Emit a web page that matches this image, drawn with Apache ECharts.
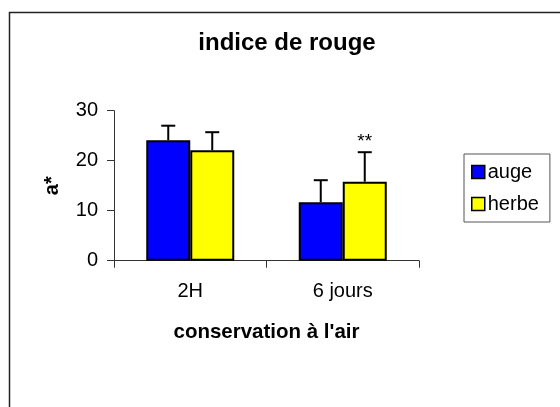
<!DOCTYPE html>
<html>
<head>
<meta charset="utf-8">
<script src="https://cdn.jsdelivr.net/npm/echarts@6/dist/echarts.min.js"></script>
<style>html,body{margin:0;padding:0;background:#fff}#c{width:560px;height:407px}</style>
</head>
<body>
<div id="c"></div>
<script>
const categories = ['2H', '6 jours'];
const seriesNames = ['auge', 'herbe'];
const augeValues = [24.1, 11.7];
const herbeValues = [22.1, 15.8];
const augeErrTop = [27.0, 16.1];
const herbeErrTop = [25.7, 21.7];
const augeSig = ['', ''];
const herbeSig = ['', '**'];
const yTicks = [0, 10, 20, 30];

const FONT = '"Liberation Sans", Arial, sans-serif';
const BAR_W = 44;

function errSeries(name, values, tops, sigs, idx) {
  return {
    type: 'custom',
    name: name + ' err',
    silent: true,
    z: 5,
    data: values.map((v, i) => [i, v, tops[i], sigs[i]]),
    encode: { x: 0, y: [1, 2] },
    renderItem: function (params, api) {
      const cat = api.value(0);
      const base = api.coord([cat, api.value(1)]);
      const top = api.coord([cat, api.value(2)]);
      const x = base[0] + (idx - 0.5) * BAR_W;
      const capHalf = 7;
      const children = [
        { type: 'line', shape: { x1: x, y1: base[1], x2: x, y2: top[1] }, style: { stroke: '#000', lineWidth: 2 } },
        { type: 'line', shape: { x1: x - capHalf, y1: top[1], x2: x + capHalf, y2: top[1] }, style: { stroke: '#000', lineWidth: 2 } }
      ];
      const s = api.value(3);
      if (s) {
        children.push({ type: 'text', style: { text: s, x: x, y: top[1] - 10, align: 'center', verticalAlign: 'middle', font: '19px ' + FONT, fill: '#000' } });
      }
      return { type: 'group', children: children };
    }
  };
}

const chart = echarts.init(document.getElementById('c'), null, { renderer: 'canvas' });
chart.setOption({
  animation: false,
  backgroundColor: '#fff',
  title: {
    text: 'indice de rouge',
    left: 287, top: 31, textAlign: 'center', padding: 0,
    textStyle: { fontFamily: FONT, fontWeight: 'bold', fontSize: 24, color: '#000' }
  },
  graphic: [{
    type: 'rect', shape: { x: 9.5, y: 12.5, width: 600, height: 450 },
    style: { fill: 'none', stroke: '#222', lineWidth: 1.5 }, silent: true, z: 100
  }],
  legend: {
    data: seriesNames,
    orient: 'vertical',
    left: 464, top: 154,
    width: 87,
    padding: [8, 11, 8, 7],
    itemGap: 12,
    itemWidth: 13, itemHeight: 13,
    icon: 'rect',
    borderColor: '#555', borderWidth: 1,
    itemStyle: { borderColor: '#000', borderWidth: 1.5 },
    textStyle: { fontFamily: FONT, fontSize: 20, color: '#000', padding: [0, 0, 0, -2] }
  },
  grid: { left: 114, right: 141, top: 110.7, bottom: 146.3, containLabel: false },
  xAxis: {
    type: 'category',
    data: categories,
    name: 'conservation à l\'air',
    nameLocation: 'middle',
    nameGap: 61,
    nameTextStyle: { fontFamily: FONT, fontWeight: 'bold', fontSize: 20.5, color: '#000' },
    axisLine: { lineStyle: { color: '#333', width: 1 } },
    axisTick: { show: true, length: 7, lineStyle: { color: '#333' } },
    axisLabel: { fontFamily: FONT, fontSize: 20, color: '#000', margin: 21 },
    splitLine: { show: false }
  },
  yAxis: {
    type: 'value',
    min: 0, max: 30, interval: 10,
    name: 'a*',
    nameLocation: 'middle',
    nameRotate: 90,
    nameGap: 52,
    nameTextStyle: { fontFamily: FONT, fontWeight: 'bold', fontSize: 20, color: '#000' },
    axisLine: { show: true, lineStyle: { color: '#333', width: 1 } },
    axisTick: { show: true, length: 7, lineStyle: { color: '#333' } },
    axisLabel: { fontFamily: FONT, fontSize: 20, color: '#000', margin: 16,
      formatter: v => yTicks.includes(v) ? String(v) : '' },
    splitLine: { show: false }
  },
  series: [
    { name: 'auge', type: 'bar', data: augeValues, barWidth: BAR_W, barGap: '0%',
      itemStyle: { color: '#0000ff', borderColor: '#000', borderWidth: 2 } },
    { name: 'herbe', type: 'bar', data: herbeValues, barWidth: BAR_W, barGap: '0%',
      itemStyle: { color: '#ffff00', borderColor: '#000', borderWidth: 2 } },
    errSeries('auge', augeValues, augeErrTop, augeSig, 0),
    errSeries('herbe', herbeValues, herbeErrTop, herbeSig, 1)
  ]
});
</script>
</body>
</html>
